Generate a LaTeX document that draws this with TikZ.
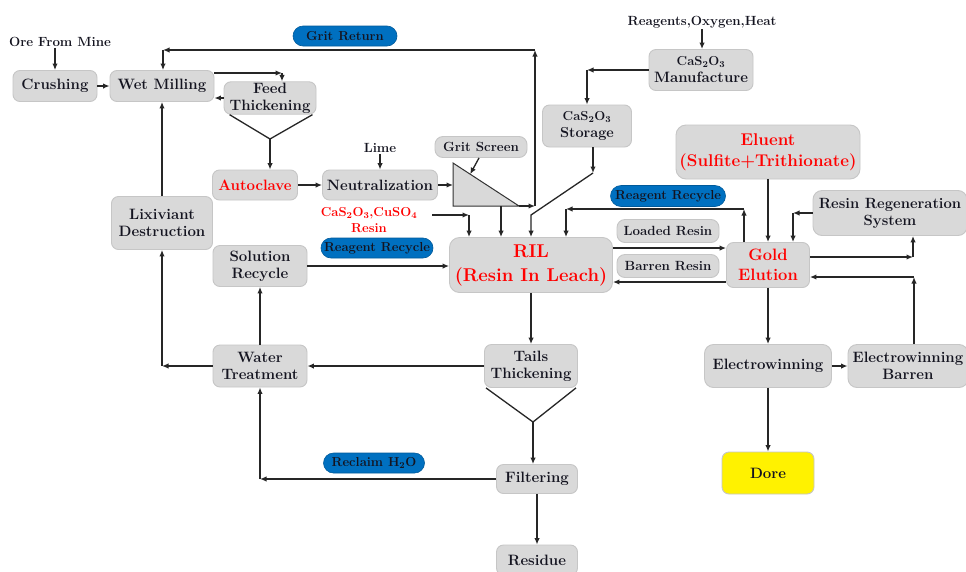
\documentclass[tikz,border=0pt]{standalone}
\usetikzlibrary{arrows.meta,calc}
\definecolor{boxfill}{HTML}{D9D9D9}
\definecolor{boxline}{HTML}{C6C6C6}
\definecolor{pill}{HTML}{0070C0}
\definecolor{txt}{HTML}{141420}
\definecolor{redt}{HTML}{FF0000}
\begin{document}
\begin{tikzpicture}[x=1pt,y=-1pt,
  box/.style={draw=boxline, fill=boxfill, rounded corners=7pt, align=center, inner sep=1pt, line width=0.9pt, text=txt, font=\bfseries\fontsize{15}{17}\selectfont},
  smallbox/.style={box, font=\bfseries\fontsize{13.3}{15}\selectfont, rounded corners=8pt},
  pillbox/.style={draw=pill!80!black, fill=pill, rounded corners=10pt, text=txt, inner sep=3pt, font=\bfseries\fontsize{13}{15}\selectfont, line width=0.6pt},
  lbl/.style={text=txt, font=\bfseries\fontsize{13.3}{15}\selectfont, inner sep=1pt},
  arr/.style={-{Latex[length=6.5pt,width=5.5pt]}, line width=1.3pt, draw=black!85},
  ln/.style={line width=1.3pt, draw=black!85},
]
\fill[white] (0,0) rectangle (966,571);
\useasboundingbox (0,0) rectangle (966,571);

% ---- nodes ----
\node[lbl] (ore) at (60,42) {Ore From Mine};
\node[box, minimum width=84pt, minimum height=31pt] (crush) at (55,86) {Crushing};
\node[box, minimum width=104pt, minimum height=31pt] (wm) at (162,86) {Wet Milling};
\node[box, minimum width=92pt, minimum height=30pt] (feed) at (270,98) {Feed\\Thickening};
\node[pillbox, minimum width=104pt, minimum height=20pt] (grit) at (345,36) {Grit Return};

\node[box, text=redt, minimum width=85pt, minimum height=30pt] (auto) at (255,185) {Autoclave};
\node[lbl] (lime) at (380,148) {Lime};
\node[box, minimum width=115pt, minimum height=30pt] (neut) at (380,185) {Neutralization};
\node[smallbox, minimum width=92pt, minimum height=21pt] (gs) at (481,147) {Grit Screen};
\node[text=redt, font=\bfseries\fontsize{13}{15.5}\selectfont, align=center, inner sep=1pt] (chem) at (369,220) {CaS\textsubscript{2}O\textsubscript{3},CuSO\textsubscript{4}\\Resin};
\node[pillbox, minimum width=112pt, minimum height=20pt] (rrl) at (377,248) {Reagent Recycle};

\node[box, minimum width=101pt, minimum height=53pt] (lix) at (162,223) {Lixiviant\\Destruction};
\node[box, minimum width=94pt, minimum height=41pt] (sol) at (260,266) {Solution\\Recycle};
\node[box, text=redt, minimum width=163pt, minimum height=55pt, rounded corners=10pt, font=\bfseries\fontsize{18.5}{24}\selectfont] (ril) at (531,265) {RIL\\(Resin In Leach)};

\node[lbl] (reag) at (702,22) {Reagents,Oxygen,Heat};
\node[box, minimum width=104pt, minimum height=41pt] (manuf) at (701,70) {{\fontsize{13}{14}\selectfont CaS\textsubscript{2}O\textsubscript{3}}\\Manufacture};
\node[box, minimum width=89pt, minimum height=42pt, font=\bfseries\fontsize{14.5}{17}\selectfont] (stor) at (587,126) {{\fontsize{13}{14}\selectfont CaS\textsubscript{2}O\textsubscript{3}}\\Storage};

\node[box, text=redt, minimum width=184pt, minimum height=54pt, rounded corners=10pt, font=\bfseries\fontsize{17}{20.5}\selectfont] (elu) at (768,152) {Eluent\\(Sulfite+Trithionate)};
\node[pillbox, minimum width=115pt, minimum height=21pt, rounded corners=10.5pt] (rrr) at (668,196) {Reagent Recycle};
\node[smallbox, minimum width=102pt, minimum height=23pt] (loaded) at (668,231) {Loaded Resin};
\node[smallbox, minimum width=102pt, minimum height=23pt] (barren) at (668,266) {Barren Resin};
\node[box, text=redt, minimum width=83pt, minimum height=45pt, font=\bfseries\fontsize{16.5}{20}\selectfont] (gold) at (768,265) {Gold\\Elution};
\node[box, minimum width=154pt, minimum height=45pt, rounded corners=9pt, font=\bfseries\fontsize{14.8}{17}\selectfont] (regen) at (890,213) {Resin Regeneration\\System};

\node[box, minimum width=127pt, minimum height=43pt, rounded corners=9pt] (ew) at (768,366) {Electrowinning};
\node[box, minimum width=120pt, minimum height=43pt, rounded corners=9pt] (ewb) at (908,366) {Electrowinning\\Barren};
\node[box, fill=yellow, minimum width=92pt, minimum height=42pt] (dore) at (768,473) {Dore};

\node[box, minimum width=94pt, minimum height=42pt] (wt) at (260,366) {Water\\Treatment};
\node[box, minimum width=93pt, minimum height=43pt] (tails) at (531,366) {Tails\\Thickening};
\node[box, minimum width=81pt, minimum height=29pt] (filt) at (537,479) {Filtering};
\node[pillbox, minimum width=101pt, minimum height=20pt] (rec) at (374,463) {Reclaim H\textsubscript{2}O};
\node[box, minimum width=81pt, minimum height=30pt] (res) at (537,560) {Residue};

% ---- grit screen triangle ----
\coordinate (gtA) at (453,163);
\coordinate (gtB) at (453,206);
\coordinate (gtC) at (519,206);
\coordinate (gtD) at (501,206);
\filldraw[fill=boxfill, draw=black!80, line width=1pt] (gtA) -- (gtB) -- (gtC) -- cycle;

% ---- funnels ----
\coordinate (fa) at (270,139);
\draw[ln] ([xshift=6pt]feed.south west) -- (fa) -- ([xshift=-4pt]feed.south east);
\coordinate (ta) at (533,422);
\draw[ln] ([xshift=2pt]tails.south west) -- (ta) -- ([xshift=-2pt]tails.south east);

% ---- connectors ----
\draw[arr] (crush.north |- ore.south) -- (crush.north);
\draw[arr] (crush.east) -- (wm.west);
\coordinate (wf) at (282,73);
\draw[arr] ([yshift=13pt]wm.east) -- (wf);
\draw[arr] (wf) -- (wf |- feed.north);
\draw[arr] (feed.west) -- (feed.west -| wm.east);
\draw[arr] (fa) -- (fa |- auto.north);
\draw[arr] (auto.east) -- (neut.west);
\draw[arr] (lime.south) -- (neut.north);
\draw[arr] (neut.east) -- (neut.east -| gtA);
\draw[arr] ([xshift=-2pt]gs.south) -- ($(gtA)!0.26!(gtC)$);

% grit return loop
\coordinate (gr1) at (535,206);
\coordinate (gr2) at (535,50);
\coordinate (gr3) at (163,50);
\draw[arr] (gtC) -- (gr1);
\draw[arr] (gr1) -- (gr2);
\draw[arr] (gr2) -- (gr3);
\draw[arr] (gr3) -- (gr3 |- wm.north);

% into RIL from above
\draw[arr] (gtD) -- (gtD |- ril.north);
\coordinate (cs0) at (432,215);
\coordinate (cs1) at (469,215);
\draw[arr] (cs0) -- (cs1);
\draw[arr] (cs1) -- (cs1 |- ril.north);
\coordinate (st1) at (593,173);
\coordinate (st2) at (531,215);
\draw[arr] (stor.south -| st1) -- (st1);
\draw[arr] (st1) -- (st2) -- (st2 |- ril.north);
\coordinate (rr1) at (744,209);
\coordinate (rr2) at (566,209);
\draw[arr] (gold.north -| rr1) -- (rr1);
\draw[arr] (rr1) -- (rr2);
\draw[arr] (rr2) -- (rr2 |- ril.north);

\draw[arr] (sol.east) -- (sol.east -| ril.west);
\draw[arr] ([yshift=17pt]ril.east) -- ([yshift=17pt]ril.east -| gold.west);
\draw[arr] ([yshift=-17pt]gold.west) -- ([yshift=-17pt]gold.west -| ril.east);

% CaS2O3 production
\draw[arr] (reag.south) -- (reag.south |- manuf.north);
\coordinate (ms1) at (587,70);
\draw[arr] (manuf.west) -- (ms1);
\draw[arr] (ms1) -- (stor.north);

% elution circuit
\draw[arr] (elu.south) -- (gold.north);
\coordinate (rg1) at (793,213);
\draw[arr] (regen.west) -- (rg1);
\draw[arr] (rg1) -- (rg1 |- gold.north);
\coordinate (rg2) at (913,257);
\draw[arr] ([yshift=8pt]gold.east) -- (rg2);
\draw[arr] (rg2) -- (rg2 |- regen.south);
\coordinate (eb1) at (914,277);
\draw[arr] (ewb.north -| eb1) -- (eb1);
\draw[arr] (eb1) -- (eb1 -| gold.east);
\draw[arr] (gold.south) -- (ew.north);
\draw[arr] (ew.east) -- (ewb.west);
\draw[arr] (ew.south) -- (dore.north);

% tailings / water
\draw[arr] (ril.south) -- (tails.north);
\draw[arr] (ta) -- (ta |- filt.north);
\draw[arr] (tails.west) -- (wt.east);
\draw[arr] (wt.north) -- (sol.south);
\coordinate (lx1) at (162,366);
\draw[arr] (wt.west) -- (lx1);
\draw[arr] (lx1) -- (lix.south);
\draw[arr] (lix.north) -- (wm.south);
\coordinate (fw1) at (260,479);
\draw[arr] (filt.west) -- (fw1);
\draw[arr] (fw1) -- (wt.south);
\draw[arr] (filt.south) -- (res.north);
\end{tikzpicture}
\end{document}
